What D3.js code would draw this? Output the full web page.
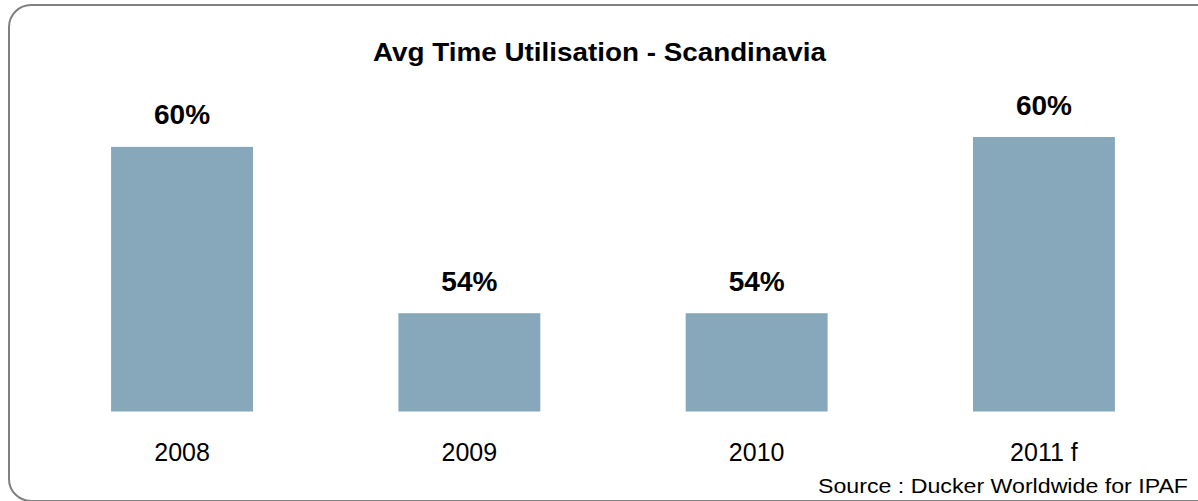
<!DOCTYPE html>
<html><head><meta charset="utf-8">
<script src="https://cdn.jsdelivr.net/npm/d3@7"></script>
<style>body{margin:0;background:#fff}svg{display:block}</style>
</head><body><svg id="c" width="1198" height="501"></svg>
<script>
const categories = ["2008", "2009", "2010", "2011 f"];
const values = [59.64, 53.58, 53.58, 60.0];
const valueLabels = ["60%", "54%", "54%", "60%"];
const title = "Avg Time Utilisation - Scandinavia";
const source = "Source : Ducker Worldwide for IPAF";

const svg = d3.select("#c");
svg.append("rect").attr("x", 9).attr("y", 5).attr("width", 1230).attr("height", 496)
  .attr("rx", 22).attr("ry", 22).attr("fill", "#fff").attr("stroke", "#808080").attr("stroke-width", 2);

const x = d3.scaleBand().domain(categories).range([38.4, 1187.6]).paddingInner(0.506).paddingOuter(0.253);
const y = d3.scaleLinear().domain([50, 60]).range([411.5, 137]);

svg.append("text").attr("x", 599.5).attr("y", 61).attr("text-anchor", "middle")
  .attr("font-family", "Liberation Sans, Arial, sans-serif").attr("font-weight", "bold")
  .attr("font-size", 26.5).attr("textLength", 453).attr("lengthAdjust", "spacingAndGlyphs").text(title);

const g = svg.append("g");
g.selectAll("rect.bar").data(values).join("rect").attr("class", "bar")
  .attr("x", (d, i) => x(categories[i])).attr("width", x.bandwidth())
  .attr("y", d => y(d)).attr("height", d => y(50) - y(d)).attr("fill", "#87A7BA");

g.selectAll("text.val").data(values).join("text").attr("class", "val")
  .attr("x", (d, i) => x(categories[i]) + x.bandwidth() / 2).attr("y", d => y(d) - 22.5)
  .attr("text-anchor", "middle").attr("font-family", "Liberation Sans, Arial, sans-serif")
  .attr("font-weight", "bold").attr("font-size", 28).attr("fill", "#000").text((d, i) => valueLabels[i]);

const xAxis = svg.append("g").attr("transform", "translate(0,411.5)")
  .call(d3.axisBottom(x).tickSize(0).tickPadding(0));
xAxis.select(".domain").remove();
xAxis.selectAll("text").attr("dy", null).attr("y", 49.5)
  .attr("font-family", "Liberation Sans, Arial, sans-serif").attr("font-size", 25).attr("fill", "#000");

svg.append("text").attr("x", 818).attr("y", 492.5)
  .attr("font-family", "Liberation Sans, Arial, sans-serif").attr("font-size", 20)
  .attr("textLength", 370).attr("lengthAdjust", "spacingAndGlyphs").attr("fill", "#000").text(source);
</script></body></html>
